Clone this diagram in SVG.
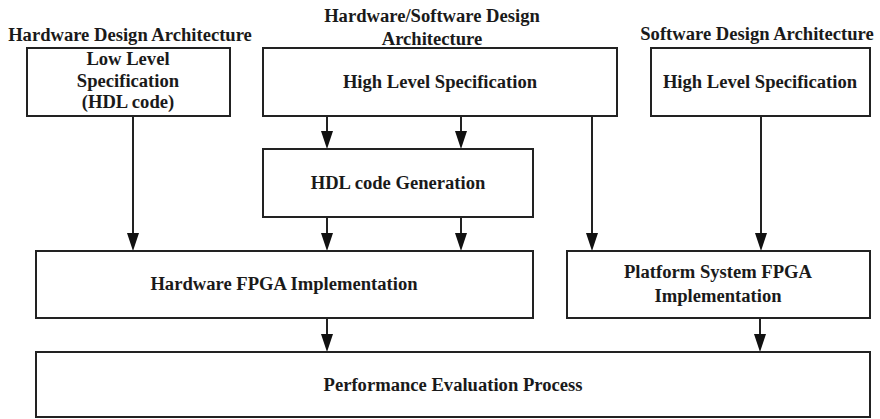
<svg xmlns="http://www.w3.org/2000/svg" width="880" height="419" viewBox="0 0 880 419">
<style>
.box{fill:#fff;stroke:#222;stroke-width:2}
.t{font-family:"Liberation Serif","Times New Roman",serif;font-weight:bold;font-size:18.6px;fill:#1a1a1a;text-anchor:middle}
.c{stroke:#222;stroke-width:2;fill:none}
.ah{fill:#111}
</style>
<rect width="880" height="419" fill="#fff"/>
<g id="headings">
<text class="t" x="130" y="41">Hardware Design Architecture</text>
<text class="t" x="432" y="22">Hardware/Software Design</text>
<text class="t" x="432" y="45">Architecture</text>
<text class="t" x="757" y="40">Software Design Architecture</text>
</g>
<g id="connectors">
<path class="c" d="M133,116 V236"/>
<path class="c" d="M327,116 V134"/>
<path class="c" d="M461,116 V134"/>
<path class="c" d="M327,217 V236"/>
<path class="c" d="M461,217 V236"/>
<path class="c" d="M592,116 V236"/>
<path class="c" d="M761,116 V236"/>
<path class="c" d="M327,318 V337"/>
<path class="c" d="M760,318 V337"/>
<path class="ah" d="M127,233 L139,233 L133,251 Z"/>
<path class="ah" d="M321,131 L333,131 L327,149 Z"/>
<path class="ah" d="M455,131 L467,131 L461,149 Z"/>
<path class="ah" d="M321,233 L333,233 L327,251 Z"/>
<path class="ah" d="M455,233 L467,233 L461,251 Z"/>
<path class="ah" d="M586,233 L598,233 L592,251 Z"/>
<path class="ah" d="M755,233 L767,233 L761,251 Z"/>
<path class="ah" d="M321,334 L333,334 L327,352 Z"/>
<path class="ah" d="M754,334 L766,334 L760,352 Z"/>
</g>
<g id="low-level-spec">
<rect class="box" x="27" y="48" width="203" height="68"/>
<text class="t" x="128" y="65">Low Level</text>
<text class="t" x="128" y="87">Specification</text>
<text class="t" x="128" y="108">(HDL code)</text>
</g>
<g id="hw-sw-high-level-spec">
<rect class="box" x="263" y="48" width="354" height="68"/>
<text class="t" x="440" y="88">High Level Specification</text>
</g>
<g id="sw-high-level-spec">
<rect class="box" x="651" y="48" width="219" height="68"/>
<text class="t" x="760" y="88">High Level Specification</text>
</g>
<g id="hdl-code-generation">
<rect class="box" x="263" y="149" width="270" height="68"/>
<text class="t" x="398" y="189">HDL code Generation</text>
</g>
<g id="hardware-fpga">
<rect class="box" x="36" y="251" width="497" height="67"/>
<text class="t" x="284" y="290">Hardware FPGA Implementation</text>
</g>
<g id="platform-fpga">
<rect class="box" x="567" y="251" width="303" height="67"/>
<text class="t" x="718" y="278">Platform System FPGA</text>
<text class="t" x="718" y="302">Implementation</text>
</g>
<g id="performance-evaluation">
<rect class="box" x="36" y="352" width="834" height="65"/>
<text class="t" x="453" y="391">Performance Evaluation Process</text>
</g>
</svg>
